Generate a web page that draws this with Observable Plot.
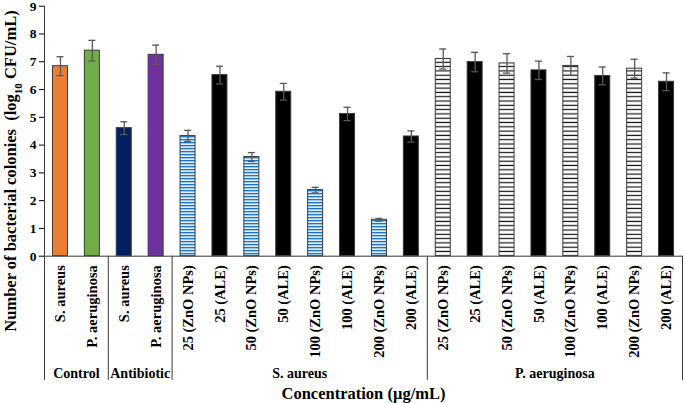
<!DOCTYPE html>
<html><head><meta charset="utf-8">
<script src="https://cdn.jsdelivr.net/npm/d3@7"></script>
<script src="https://cdn.jsdelivr.net/npm/@observablehq/plot@0.6"></script>
<style>html,body{margin:0;padding:0;background:#fff} svg{display:block} svg text{font-family:"Liberation Serif","Times New Roman","DejaVu Serif",serif !important;}</style>
</head><body><div id="chart"></div>
<script>
const labels = ["S. aureus","P. aeruginosa","S. aureus","P. aeruginosa",
  "25 (ZnO NPs)","25 (ALE)","50 (ZnO NPs)","50 (ALE)","100 (ZnO NPs)","100 (ALE)","200 (ZnO NPs)","200 (ALE)",
  "25 (ZnO NPs)","25 (ALE)","50 (ZnO NPs)","50 (ALE)","100 (ZnO NPs)","100 (ALE)","200 (ZnO NPs)","200 (ALE)"];
const groups = ["Control","Control","Antibiotic","Antibiotic",
  "S. aureus","S. aureus","S. aureus","S. aureus","S. aureus","S. aureus","S. aureus","S. aureus",
  "P. aeruginosa","P. aeruginosa","P. aeruginosa","P. aeruginosa","P. aeruginosa","P. aeruginosa","P. aeruginosa","P. aeruginosa"];
const values = [6.84,7.40,4.61,7.25, 4.33,6.52,3.57,5.92,2.38,5.12,1.31,4.31, 7.10,6.99,6.94,6.69,6.85,6.49,6.75,6.28];
const errors = [0.34,0.37,0.23,0.35, 0.20,0.32,0.16,0.30,0.10,0.24,0.05,0.20, 0.36,0.35,0.35,0.33,0.34,0.32,0.34,0.32];
const fills = ["#ED7D31","#70AD47","#002060","#7030A0",
  "url(#saPat)","#000000","url(#saPat)","#000000","url(#saPat)","#000000","url(#saPat)","#000000",
  "url(#paPat)","#000000","url(#paPat)","#000000","url(#paPat)","#000000","url(#paPat)","#000000"];
const groupNames = ["Control","Antibiotic","S. aureus","P. aeruginosa"];
const yTicks = [0,1,2,3,4,5,6,7,8,9];
const xTitle = "Concentration (µg/mL)";

const font = "Liberation Serif, Times New Roman, DejaVu Serif, serif";
const data = labels.map((label,i)=>({i,label,group:groups[i],v:values[i],e:errors[i],fill:fills[i]}));
const groupData = groupNames.map(g=>{
  const idx = data.filter(d=>d.group===g).map(d=>d.i);
  return {g, center:d3.mean(idx), start:d3.min(idx)-0.5, end:d3.max(idx)+0.5};
});
const bounds = Array.from(new Set(groupData.flatMap(d=>[d.start,d.end])));
const halfBar = 0.235, halfCap = 0.11;
const below = -4.47; // depth of the group-separator lines below the baseline (data units)
const caps = data.flatMap(d=>[{i:d.i,y:d.v+d.e},{i:d.i,y:d.v-d.e}]);

const plot = Plot.plot({
  width:685, height:403,
  marginLeft:44, marginRight:3, marginTop:5.7, marginBottom:147.3,
  x:{domain:[-0.5,19.5], axis:null},
  y:{domain:[0,9], ticks:yTicks, tickSize:5, tickPadding:3, label:null, tickFormat:d=>String(d)},
  color:{type:"identity"},
  style:{fontFamily:font, fontWeight:"bold", fontSize:"13.5px", color:"#000", background:"#fff"},
  marks:[
    Plot.rect(data,{x1:d=>d.i-halfBar, x2:d=>d.i+halfBar, y1:0, y2:"v", fill:"fill", stroke:"#3a3a3a", strokeWidth:1}),
    Plot.ruleX(data,{x:"i", y1:d=>d.v-d.e, y2:d=>d.v+d.e, stroke:"#595959", strokeWidth:1.3}),
    Plot.ruleY(caps,{x1:d=>d.i-halfCap, x2:d=>d.i+halfCap, y:"y", stroke:"#595959", strokeWidth:1.3}),
    Plot.ruleY([0],{x1:-0.5, x2:19.5, stroke:"#3a3a3a", strokeWidth:1}),
    Plot.ruleX([bounds[0]],{y1:9, y2:below, stroke:"#3a3a3a", strokeWidth:1}),
    Plot.ruleX(bounds.slice(1),{y1:0, y2:below, stroke:"#3a3a3a", strokeWidth:1}),
    Plot.text(data,{x:"i", y:0, text:"label", rotate:-90, textAnchor:"end", dy:9, fontSize:14.5, fontWeight:"bold", fill:"#000", fontFamily:font}),
    Plot.text(groupData,{x:"center", y:0, text:"g", dy:117, fontSize:14, fontWeight:"bold", fill:"#000", fontFamily:font}),
    Plot.text([xTitle],{frameAnchor:"bottom", lineAnchor:"middle", text:d=>d, dy:137.5, fontSize:16.5, fontWeight:"bold", fill:"#000", fontFamily:font})
  ]
});

const svg = d3.select(plot);
const defs = svg.insert("defs",":first-child");
const sa = defs.append("pattern").attr("id","saPat").attr("patternUnits","userSpaceOnUse").attr("width",8).attr("height",3);
sa.append("rect").attr("width",8).attr("height",3).attr("fill","#9CC5EA");
sa.append("rect").attr("y",1).attr("width",8).attr("height",1).attr("fill","#1B76C9");
sa.append("rect").attr("y",0).attr("width",8).attr("height",0.7).attr("fill","#ffffff");
const pa = defs.append("pattern").attr("id","paPat").attr("patternUnits","userSpaceOnUse").attr("width",8).attr("height",4.3);
pa.append("rect").attr("width",8).attr("height",4.3).attr("fill","#ffffff");
pa.append("rect").attr("y",1.5).attr("width",8).attr("height",1.2).attr("fill","#111111");

const yl = svg.append("text")
  .attr("transform","translate(10,171) rotate(-90)")
  .attr("text-anchor","middle").attr("dy","0.35em")
  .attr("font-family",font).attr("font-weight","bold").attr("font-size",16.5).attr("fill","#000")
  .style("white-space","pre");
yl.append("tspan").text("Number of bacterial colonies  (log");
yl.append("tspan").attr("font-size",11).attr("baseline-shift","sub").text("10");
yl.append("tspan").text(" CFU/mL)");

document.getElementById("chart").appendChild(plot);
</script>
</body></html>
